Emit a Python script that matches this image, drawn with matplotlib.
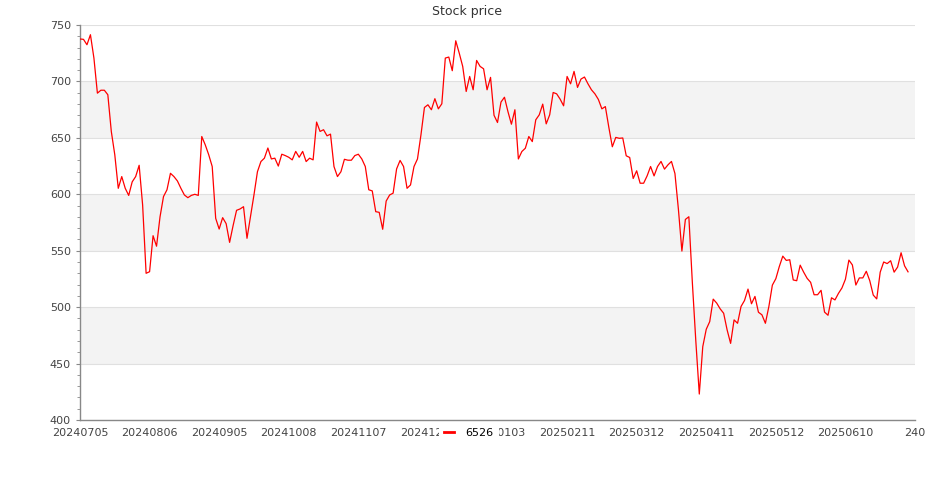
import matplotlib.pyplot as plt
from matplotlib.ticker import MultipleLocator

title = "Stock price"
series_name = "6526"

# tick labels every 20 trading days (last one is past the data)
tick_labels = ["20240705", "20240806", "20240905", "20241008", "20241107",
               "20241205", "20250103", "20250211", "20250312", "20250411",
               "20250512", "20250610", "240"]

prices = [
    737.6, 737.3, 732.5, 741.4, 720.7, 689.6, 692.2, 692.2, 688.2, 655.6,
    635.0, 605.3, 615.7, 605.3, 599.0, 611.0, 615.7, 625.7, 590.5, 530.0,
    531.4, 563.3, 554.0, 580.0, 598.0, 604.0, 618.6, 615.7, 611.8, 605.3,
    599.4, 597.0, 599.0, 600.0, 599.0, 651.2, 643.8, 635.0, 624.6, 578.7,
    569.2, 579.3, 574.0, 557.4, 572.2, 585.8, 587.0, 589.0, 561.0, 580.0,
    599.4, 620.0, 629.0, 632.0, 641.0, 631.3, 632.0, 625.0, 635.5, 634.3,
    632.8, 630.5, 638.0, 632.8, 638.0, 629.0, 632.0, 630.5, 664.0, 655.7,
    657.2, 651.8, 653.3, 624.6, 615.7, 620.0, 631.0, 630.2, 630.2, 634.3,
    635.5, 631.3, 624.6, 604.0, 603.0, 584.6, 584.0, 569.0, 594.0, 599.4,
    601.0, 622.5, 630.0, 624.6, 605.3, 608.3, 624.6, 631.3, 652.7, 676.9,
    679.3, 674.9, 684.7, 675.7, 680.2, 720.7, 721.6, 709.5, 736.0, 725.1,
    713.3, 691.1, 704.4, 692.6, 718.6, 713.3, 711.2, 692.6, 703.6, 670.0,
    663.6, 681.7, 686.0, 673.3, 662.1, 674.9, 631.3, 637.9, 640.8, 651.2,
    646.7, 666.0, 670.4, 679.9, 662.4, 670.4, 690.2, 689.0, 684.3, 678.4,
    704.4, 697.9, 708.9, 694.7, 702.1, 703.9, 697.9, 692.6, 689.0, 684.0,
    675.7, 677.7, 659.3, 642.1, 650.4, 649.6, 649.9, 634.1, 632.6, 614.0,
    620.8, 609.8, 609.8, 616.3, 624.6, 616.3, 624.6, 629.1, 622.3, 626.1,
    629.1, 618.4, 586.6, 549.7, 577.7, 580.1, 522.0, 470.0, 423.0, 465.0,
    480.4, 487.2, 507.1, 503.6, 498.5, 494.6, 479.8, 467.9, 488.7, 485.7,
    500.6, 505.9, 516.0, 503.0, 509.5, 495.5, 493.2, 485.7, 500.6, 519.5,
    525.2, 536.0, 545.2, 541.4, 542.0, 524.1, 523.4, 537.2, 531.0, 525.5,
    522.0, 511.0, 511.0, 514.9, 495.6, 492.8, 508.3, 506.4, 512.2, 517.0,
    524.7, 541.7, 537.4, 519.6, 525.9, 525.9, 531.8, 523.4, 510.7, 507.3,
    531.0, 540.0, 538.6, 541.1, 531.0, 535.5, 548.2, 536.6, 531.3,
]

fig = plt.figure(figsize=(9.35, 5), dpi=100)
ax = fig.add_axes([80 / 935, 80 / 500, 835 / 935, 395 / 500])

x = list(range(len(prices)))
ax.plot(x, prices, color="red", lw=0.9, label=series_name, zorder=3)

ax.set_xlim(0, 240)
ax.set_ylim(400, 750)

# alternating bands
for lo in (450, 550, 650):
    ax.axhspan(lo, lo + 50, color="#f3f3f3", lw=0, zorder=0)

ax.yaxis.set_major_locator(MultipleLocator(50))
ax.yaxis.set_minor_locator(MultipleLocator(10))
ax.grid(axis="y", which="major", color="#e0e0e0", lw=0.8, zorder=1)
ax.set_axisbelow(True)

ax.set_xticks(list(range(0, 241, 20)))
ax.set_xticklabels(tick_labels)

for side in ("top", "right"):
    ax.spines[side].set_visible(False)
for side in ("left", "bottom"):
    ax.spines[side].set_color("#888888")
    ax.spines[side].set_linewidth(1.0)

ax.tick_params(axis="x", length=0, pad=5.5, labelsize=8, labelcolor="#444444")
ax.tick_params(axis="y", which="major", length=3, pad=3.5, color="#888888",
               labelsize=8, labelcolor="#444444")
ax.tick_params(axis="y", which="minor", length=2, color="#888888")

fig.text(0.5, 1 - 12 / 500, title, ha="center", va="center",
         fontsize=9, color="#333333")

# legend sits on top of the tick labels, as in the original
leg = fig.legend(loc="center", bbox_to_anchor=(469 / 935, 1 - 433 / 500),
                 frameon=True, facecolor="white", edgecolor="none",
                 fancybox=False, framealpha=1, fontsize=8,
                 handlelength=0.9, handletextpad=1.0, borderpad=0.5)
for h in leg.legend_handles:
    h.set_linewidth(2)

plt.savefig("out.png", dpi=100)
